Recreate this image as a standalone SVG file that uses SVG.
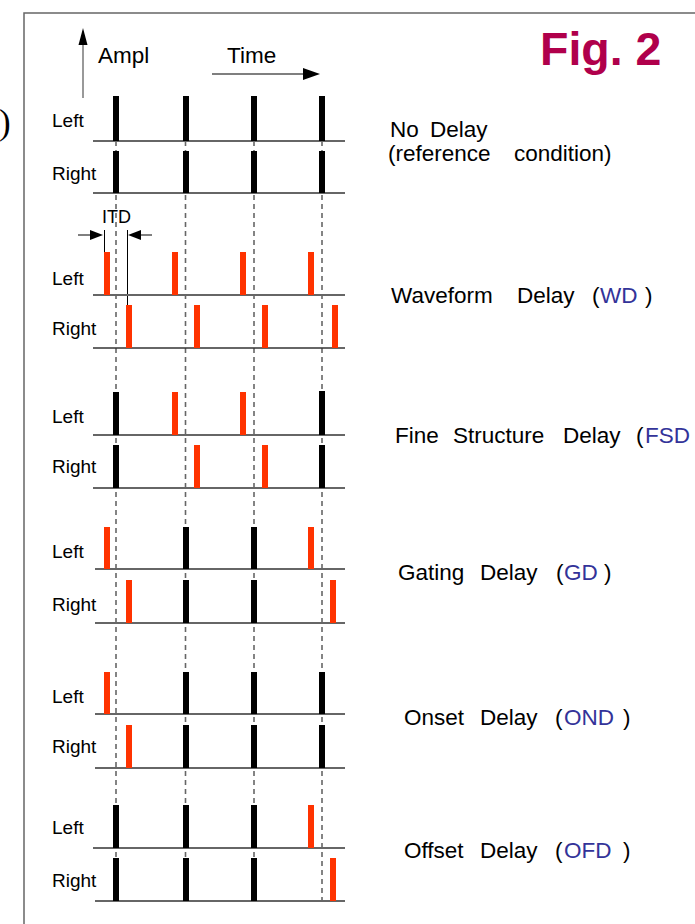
<svg xmlns="http://www.w3.org/2000/svg" width="695" height="924" viewBox="0 0 695 924">
<style>
text{font-family:"Liberation Sans",Arial,sans-serif;fill:#000}
.lab{font-size:19px}
.cap{font-size:22.5px}
.ab{fill:#333399}
.base{stroke:#666;stroke-width:2}
.dash{stroke:#666;stroke-width:1.6;stroke-dasharray:5 4;fill:none}
.bk{fill:#000}
.rd{fill:#FF3300}
.thin{stroke:#000;stroke-width:1;fill:none}
</style>
<rect x="0" y="0" width="695" height="924" fill="#fff"/>
<path d="M24,924 V13 H700" fill="none" stroke="#666" stroke-width="1.5"/>
<text x="-1" y="134" style="font-family:'Liberation Serif',serif;font-size:35px">)</text>
<g id="axes">
<line x1="83" y1="98" x2="83" y2="44" stroke="#555" stroke-width="1.2"/>
<polygon points="78.5,45 87.5,45 83,28" class="bk"/>
<text x="98" y="63" class="cap">Ampl</text>
<text x="227" y="63" class="cap">Time</text>
<line x1="212" y1="74" x2="305" y2="74" stroke="#000" stroke-width="1.2"/>
<polygon points="303,68 320,74 303,80" class="bk"/>
</g>
<text x="540" y="65" style="font-size:46.5px;font-weight:bold;fill:#B0004B">Fig. 2</text>
<g id="connectors">
<line class="dash" x1="116" y1="96" x2="116" y2="901"/>
<line class="dash" x1="185.5" y1="96" x2="185.5" y2="901"/>
<line class="dash" x1="254" y1="96" x2="254" y2="901"/>
<line class="dash" x1="322" y1="96" x2="322" y2="901"/>
</g>
<g id="row-nodelay">
<text x="52" y="127" class="lab">Left</text>
<text x="52" y="180" class="lab">Right</text>
<line class="base" x1="93" y1="141" x2="345" y2="141"/>
<line class="base" x1="93" y1="193" x2="345" y2="193"/>
<rect class="bk" x="113" y="96" width="6" height="45"/>
<rect class="bk" x="183" y="96" width="6" height="45"/>
<rect class="bk" x="251" y="96" width="6" height="45"/>
<rect class="bk" x="319" y="96" width="6" height="45"/>
<rect class="bk" x="113" y="151" width="6" height="42"/>
<rect class="bk" x="183" y="151" width="6" height="42"/>
<rect class="bk" x="251" y="151" width="6" height="42"/>
<rect class="bk" x="319" y="151" width="6" height="42"/>
<text class="cap" y="137"><tspan x="390">No</tspan><tspan x="430">Delay</tspan></text>
<text class="cap" y="161"><tspan x="388">(reference</tspan><tspan x="514">condition)</tspan></text>
</g>
<g id="row-wd">
<text x="102" y="223" style="font-size:18px">ITD</text>
<line class="thin" x1="78" y1="235" x2="92" y2="235"/>
<polygon class="bk" points="90,230 103,235 90,240"/>
<line class="thin" x1="141" y1="235" x2="152" y2="235"/>
<polygon class="bk" points="141,230 128,235 141,240"/>
<line class="thin" x1="104.5" y1="230" x2="104.5" y2="252"/>
<line class="thin" x1="127.5" y1="230" x2="127.5" y2="305"/>
<text x="52" y="285" class="lab">Left</text>
<text x="52" y="335" class="lab">Right</text>
<line class="base" x1="93" y1="295" x2="345" y2="295"/>
<line x1="93" y1="348" x2="345" y2="348" stroke="#333" stroke-width="1.6"/>
<rect class="rd" x="104" y="252" width="6" height="43"/>
<rect class="rd" x="172" y="252" width="6" height="43"/>
<rect class="rd" x="240" y="252" width="6" height="43"/>
<rect class="rd" x="308" y="252" width="6" height="43"/>
<rect class="rd" x="126" y="305" width="6" height="43"/>
<rect class="rd" x="194" y="305" width="6" height="43"/>
<rect class="rd" x="262" y="305" width="6" height="43"/>
<rect class="rd" x="332" y="305" width="6" height="43"/>
<text class="cap" y="303"><tspan x="391">Waveform</tspan><tspan x="517">Delay</tspan><tspan x="592">(</tspan><tspan x="600" class="ab">WD</tspan><tspan x="645">)</tspan></text>
</g>
<g id="row-fsd">
<text x="52" y="423" class="lab">Left</text>
<text x="52" y="473" class="lab">Right</text>
<line class="base" x1="93" y1="435" x2="345" y2="435"/>
<line class="base" x1="93" y1="488" x2="345" y2="488"/>
<rect class="bk" x="113" y="392" width="6" height="43"/>
<rect class="rd" x="172" y="392" width="6" height="43"/>
<rect class="rd" x="240" y="392" width="6" height="43"/>
<rect class="bk" x="319" y="391" width="6" height="44"/>
<rect class="bk" x="113" y="445" width="6" height="43"/>
<rect class="rd" x="194" y="445" width="6" height="43"/>
<rect class="rd" x="262" y="445" width="6" height="43"/>
<rect class="bk" x="319" y="445" width="6" height="43"/>
<text class="cap" y="443"><tspan x="395">Fine</tspan><tspan x="453">Structure</tspan><tspan x="563">Delay</tspan><tspan x="636">(</tspan><tspan x="645" class="ab">FSD</tspan></text>
</g>
<g id="row-gd">
<text x="52" y="558" class="lab">Left</text>
<text x="52" y="611" class="lab">Right</text>
<line class="base" x1="95" y1="569" x2="345" y2="569"/>
<line class="base" x1="95" y1="623" x2="345" y2="623"/>
<rect class="rd" x="104" y="527" width="6" height="42"/>
<rect class="bk" x="183" y="527" width="6" height="42"/>
<rect class="bk" x="251" y="527" width="6" height="42"/>
<rect class="rd" x="308" y="527" width="6" height="42"/>
<rect class="rd" x="126" y="580" width="6" height="43"/>
<rect class="bk" x="183" y="580" width="6" height="43"/>
<rect class="bk" x="251" y="580" width="6" height="43"/>
<rect class="rd" x="330" y="580" width="6" height="43"/>
<text class="cap" y="580"><tspan x="398">Gating</tspan><tspan x="480">Delay</tspan><tspan x="556">(</tspan><tspan x="564" class="ab">GD</tspan><tspan x="604">)</tspan></text>
</g>
<g id="row-ond">
<text x="52" y="703" class="lab">Left</text>
<text x="52" y="753" class="lab">Right</text>
<line class="base" x1="95" y1="714" x2="345" y2="714"/>
<line class="base" x1="95" y1="768" x2="345" y2="768"/>
<rect class="rd" x="104" y="672" width="6" height="42"/>
<rect class="bk" x="183" y="672" width="6" height="42"/>
<rect class="bk" x="251" y="672" width="6" height="42"/>
<rect class="bk" x="319" y="672" width="6" height="42"/>
<rect class="rd" x="126" y="725" width="6" height="43"/>
<rect class="bk" x="183" y="725" width="6" height="43"/>
<rect class="bk" x="251" y="725" width="6" height="43"/>
<rect class="bk" x="319" y="725" width="6" height="43"/>
<text class="cap" y="725"><tspan x="404">Onset</tspan><tspan x="480">Delay</tspan><tspan x="555">(</tspan><tspan x="564" class="ab">OND</tspan><tspan x="623">)</tspan></text>
</g>
<g id="row-ofd">
<text x="52" y="834" class="lab">Left</text>
<text x="52" y="887" class="lab">Right</text>
<line class="base" x1="93" y1="848" x2="345" y2="848"/>
<line class="base" x1="95" y1="901" x2="345" y2="901"/>
<rect class="bk" x="113" y="805" width="6" height="43"/>
<rect class="bk" x="183" y="805" width="6" height="43"/>
<rect class="bk" x="251" y="805" width="6" height="43"/>
<rect class="rd" x="308" y="805" width="6" height="43"/>
<rect class="bk" x="113" y="858" width="6" height="43"/>
<rect class="bk" x="183" y="858" width="6" height="43"/>
<rect class="bk" x="251" y="858" width="6" height="43"/>
<rect class="rd" x="330" y="858" width="6" height="43"/>
<text class="cap" y="858"><tspan x="404">Offset</tspan><tspan x="480">Delay</tspan><tspan x="555">(</tspan><tspan x="564" class="ab">OFD</tspan><tspan x="623">)</tspan></text>
</g>
</svg>
